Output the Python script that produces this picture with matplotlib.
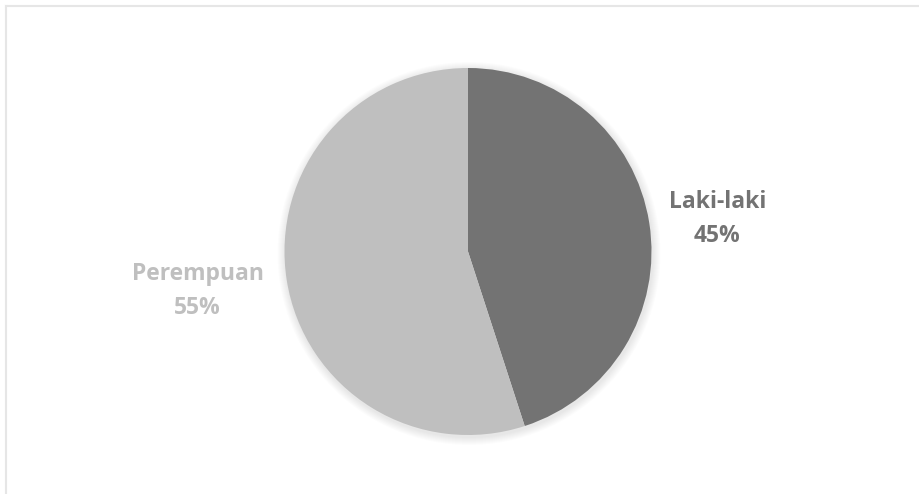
import numpy as np
import matplotlib.pyplot as plt
from matplotlib.lines import Line2D
from matplotlib.patches import Circle

labels = ["Laki-laki", "Perempuan"]
values = [45, 55]
colors = ["#737373", "#bfbfbf"]
label_dist = [1.37, 1.49]
label_turn = [-1.5, -0.6]  # small angle nudge (degrees) for label placement

fig = plt.figure(figsize=(9.2, 4.94), dpi=100)
ax = fig.add_axes([0, 0, 1, 1])

cx, cy, r = 468, 242.5, 183.5

# soft shadow behind the pie
for k in range(1, 9):
    ax.add_patch(Circle((cx + 1, cy - 2), r + k, color="black", alpha=0.012, lw=0, zorder=0))

wedges, _ = ax.pie(values, colors=colors, startangle=90, counterclock=False,
                   center=(cx, cy), radius=r, frame=True,
                   wedgeprops=dict(linewidth=0, zorder=2))
ax.set_xlim(0, 920)
ax.set_ylim(0, 494)
ax.set_aspect("equal")
ax.axis("off")

for w, lab, v, c, d, t in zip(wedges, labels, values, colors, label_dist, label_turn):
    ang = np.deg2rad((w.theta1 + w.theta2) / 2 + t)
    x = cx + d * r * np.cos(ang)
    y = cy + d * r * np.sin(ang)
    ax.text(x, y, f"{lab}\n{v}%", ha="center", va="center", color=c,
            fontsize=16.5, fontweight="bold", family="Open Sans", linespacing=1.55)

# light frame at top and left
fig.add_artist(Line2D([6 / 920, 1], [1 - 6 / 494] * 2, color="#e6e6e6", lw=1.5))
fig.add_artist(Line2D([6 / 920] * 2, [0, 1 - 6 / 494], color="#e6e6e6", lw=1.5))

fig.savefig("out.png", dpi=100)
